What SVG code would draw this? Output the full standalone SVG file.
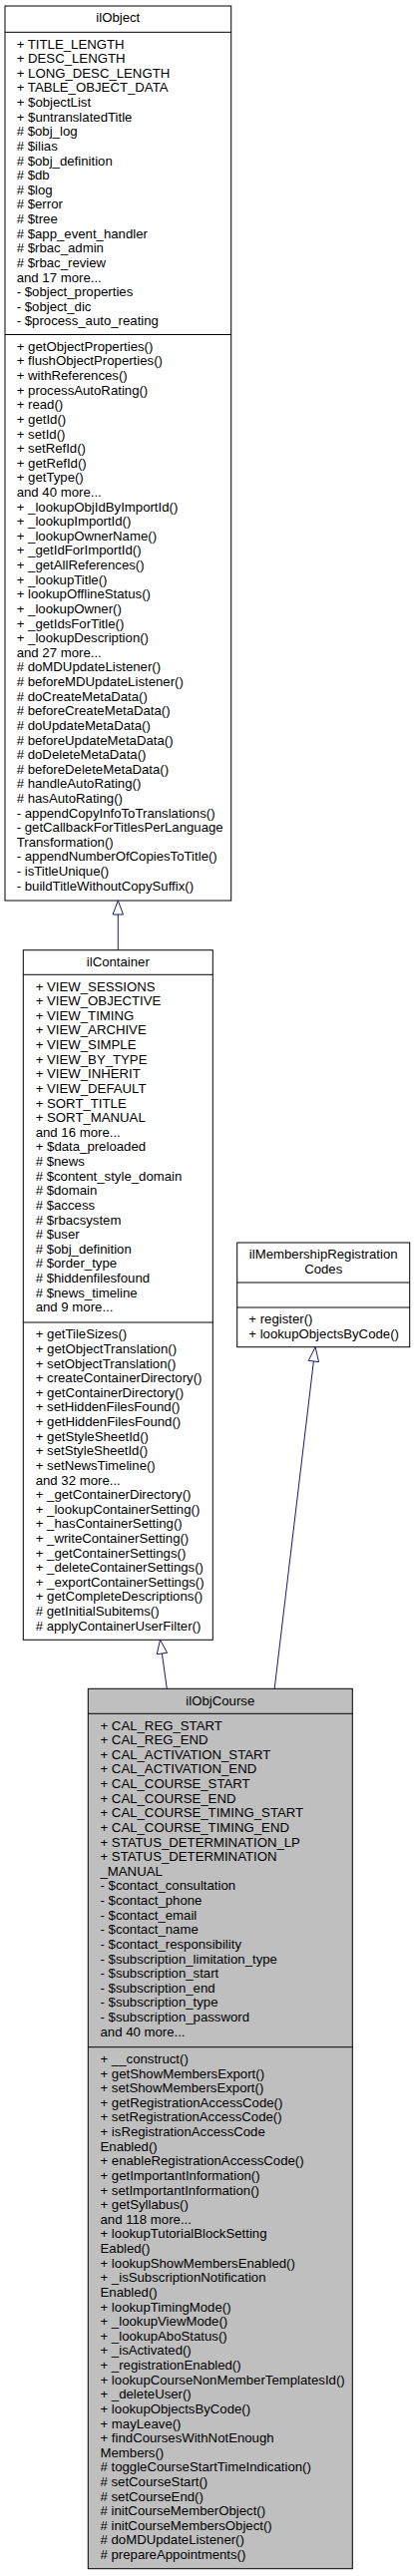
<svg xmlns="http://www.w3.org/2000/svg" width="415" height="2583" viewBox="0 0 415 2583">
<style>
.box{fill:#ffffff;stroke:#000000;stroke-width:1}
.cur{fill:#bfbfbf;stroke:#000000;stroke-width:1}
.sep{stroke:#000000;stroke-width:1}
text{font-family:"Liberation Sans",Arial,Helvetica,sans-serif;font-size:13.2px;fill:#000000}
.t{text-anchor:middle}
.edge{stroke:#191970;stroke-width:1;fill:none}
.head{fill:#ffffff;stroke:#191970;stroke-width:1}
</style>
<rect x="0" y="0" width="415" height="2583" fill="#ffffff"/>
<g id="ilObject">
<rect class="box" x="5" y="6" width="226.7" height="897"/>
<line class="sep" x1="5" y1="32.3" x2="231.7" y2="32.3"/>
<line class="sep" x1="5" y1="335.5" x2="231.7" y2="335.5"/>
<text class="t" x="118.3" y="22">ilObject</text>
<text><tspan x="16.7" y="48.6">+ TITLE_LENGTH</tspan><tspan x="16.7" dy="14.62">+ DESC_LENGTH</tspan><tspan x="16.7" dy="14.62">+ LONG_DESC_LENGTH</tspan><tspan x="16.7" dy="14.62">+ TABLE_OBJECT_DATA</tspan><tspan x="16.7" dy="14.62">+ $objectList</tspan><tspan x="16.7" dy="14.62">+ $untranslatedTitle</tspan><tspan x="16.7" dy="14.62"># $obj_log</tspan><tspan x="16.7" dy="14.62"># $ilias</tspan><tspan x="16.7" dy="14.62"># $obj_definition</tspan><tspan x="16.7" dy="14.62"># $db</tspan><tspan x="16.7" dy="14.62"># $log</tspan><tspan x="16.7" dy="14.62"># $error</tspan><tspan x="16.7" dy="14.62"># $tree</tspan><tspan x="16.7" dy="14.62"># $app_event_handler</tspan><tspan x="16.7" dy="14.62"># $rbac_admin</tspan><tspan x="16.7" dy="14.62"># $rbac_review</tspan><tspan x="16.7" dy="14.62">and 17 more...</tspan><tspan x="16.7" dy="14.62">- $object_properties</tspan><tspan x="16.7" dy="14.62">- $object_dic</tspan><tspan x="16.7" dy="14.62">- $process_auto_reating</tspan></text>
<text><tspan x="16.7" y="351.8">+ getObjectProperties()</tspan><tspan x="16.7" dy="14.62">+ flushObjectProperties()</tspan><tspan x="16.7" dy="14.62">+ withReferences()</tspan><tspan x="16.7" dy="14.62">+ processAutoRating()</tspan><tspan x="16.7" dy="14.62">+ read()</tspan><tspan x="16.7" dy="14.62">+ getId()</tspan><tspan x="16.7" dy="14.62">+ setId()</tspan><tspan x="16.7" dy="14.62">+ setRefId()</tspan><tspan x="16.7" dy="14.62">+ getRefId()</tspan><tspan x="16.7" dy="14.62">+ getType()</tspan><tspan x="16.7" dy="14.62">and 40 more...</tspan><tspan x="16.7" dy="14.62">+ _lookupObjIdByImportId()</tspan><tspan x="16.7" dy="14.62">+ _lookupImportId()</tspan><tspan x="16.7" dy="14.62">+ _lookupOwnerName()</tspan><tspan x="16.7" dy="14.62">+ _getIdForImportId()</tspan><tspan x="16.7" dy="14.62">+ _getAllReferences()</tspan><tspan x="16.7" dy="14.62">+ _lookupTitle()</tspan><tspan x="16.7" dy="14.62">+ lookupOfflineStatus()</tspan><tspan x="16.7" dy="14.62">+ _lookupOwner()</tspan><tspan x="16.7" dy="14.62">+ _getIdsForTitle()</tspan><tspan x="16.7" dy="14.62">+ _lookupDescription()</tspan><tspan x="16.7" dy="14.62">and 27 more...</tspan><tspan x="16.7" dy="14.62"># doMDUpdateListener()</tspan><tspan x="16.7" dy="14.62"># beforeMDUpdateListener()</tspan><tspan x="16.7" dy="14.62"># doCreateMetaData()</tspan><tspan x="16.7" dy="14.62"># beforeCreateMetaData()</tspan><tspan x="16.7" dy="14.62"># doUpdateMetaData()</tspan><tspan x="16.7" dy="14.62"># beforeUpdateMetaData()</tspan><tspan x="16.7" dy="14.62"># doDeleteMetaData()</tspan><tspan x="16.7" dy="14.62"># beforeDeleteMetaData()</tspan><tspan x="16.7" dy="14.62"># handleAutoRating()</tspan><tspan x="16.7" dy="14.62"># hasAutoRating()</tspan><tspan x="16.7" dy="14.62">- appendCopyInfoToTranslations()</tspan><tspan x="16.7" dy="14.62">- getCallbackForTitlesPerLanguage</tspan><tspan x="16.7" dy="14.62">Transformation()</tspan><tspan x="16.7" dy="14.62">- appendNumberOfCopiesToTitle()</tspan><tspan x="16.7" dy="14.62">- isTitleUnique()</tspan><tspan x="16.7" dy="14.62">- buildTitleWithoutCopySuffix()</tspan></text>
</g>
<g id="ilContainer">
<rect class="box" x="23.3" y="952.7" width="190" height="691.6"/>
<line class="sep" x1="23.3" y1="977.3" x2="213.3" y2="977.3"/>
<line class="sep" x1="23.3" y1="1326" x2="213.3" y2="1326"/>
<text class="t" x="118.3" y="968.7">ilContainer</text>
<text><tspan x="35.7" y="993.6">+ VIEW_SESSIONS</tspan><tspan x="35.7" dy="14.62">+ VIEW_OBJECTIVE</tspan><tspan x="35.7" dy="14.62">+ VIEW_TIMING</tspan><tspan x="35.7" dy="14.62">+ VIEW_ARCHIVE</tspan><tspan x="35.7" dy="14.62">+ VIEW_SIMPLE</tspan><tspan x="35.7" dy="14.62">+ VIEW_BY_TYPE</tspan><tspan x="35.7" dy="14.62">+ VIEW_INHERIT</tspan><tspan x="35.7" dy="14.62">+ VIEW_DEFAULT</tspan><tspan x="35.7" dy="14.62">+ SORT_TITLE</tspan><tspan x="35.7" dy="14.62">+ SORT_MANUAL</tspan><tspan x="35.7" dy="14.62">and 16 more...</tspan><tspan x="35.7" dy="14.62">+ $data_preloaded</tspan><tspan x="35.7" dy="14.62"># $news</tspan><tspan x="35.7" dy="14.62"># $content_style_domain</tspan><tspan x="35.7" dy="14.62"># $domain</tspan><tspan x="35.7" dy="14.62"># $access</tspan><tspan x="35.7" dy="14.62"># $rbacsystem</tspan><tspan x="35.7" dy="14.62"># $user</tspan><tspan x="35.7" dy="14.62"># $obj_definition</tspan><tspan x="35.7" dy="14.62"># $order_type</tspan><tspan x="35.7" dy="14.62"># $hiddenfilesfound</tspan><tspan x="35.7" dy="14.62"># $news_timeline</tspan><tspan x="35.7" dy="14.62">and 9 more...</tspan></text>
<text><tspan x="35.7" y="1342.3">+ getTileSizes()</tspan><tspan x="35.7" dy="14.62">+ getObjectTranslation()</tspan><tspan x="35.7" dy="14.62">+ setObjectTranslation()</tspan><tspan x="35.7" dy="14.62">+ createContainerDirectory()</tspan><tspan x="35.7" dy="14.62">+ getContainerDirectory()</tspan><tspan x="35.7" dy="14.62">+ setHiddenFilesFound()</tspan><tspan x="35.7" dy="14.62">+ getHiddenFilesFound()</tspan><tspan x="35.7" dy="14.62">+ getStyleSheetId()</tspan><tspan x="35.7" dy="14.62">+ setStyleSheetId()</tspan><tspan x="35.7" dy="14.62">+ setNewsTimeline()</tspan><tspan x="35.7" dy="14.62">and 32 more...</tspan><tspan x="35.7" dy="14.62">+ _getContainerDirectory()</tspan><tspan x="35.7" dy="14.62">+ _lookupContainerSetting()</tspan><tspan x="35.7" dy="14.62">+ _hasContainerSetting()</tspan><tspan x="35.7" dy="14.62">+ _writeContainerSetting()</tspan><tspan x="35.7" dy="14.62">+ _getContainerSettings()</tspan><tspan x="35.7" dy="14.62">+ _deleteContainerSettings()</tspan><tspan x="35.7" dy="14.62">+ _exportContainerSettings()</tspan><tspan x="35.7" dy="14.62">+ getCompleteDescriptions()</tspan><tspan x="35.7" dy="14.62"># getInitialSubitems()</tspan><tspan x="35.7" dy="14.62"># applyContainerUserFilter()</tspan></text>
</g>
<g id="ilMembershipRegistrationCodes">
<rect class="box" x="237.7" y="1246" width="173" height="104.7"/>
<line class="sep" x1="237.7" y1="1286" x2="410.7" y2="1286"/>
<line class="sep" x1="237.7" y1="1311" x2="410.7" y2="1311"/>
<text class="t"><tspan x="324.2" y="1262.4">ilMembershipRegistration</tspan><tspan x="324.2" dy="14.62">Codes</tspan></text>
<text><tspan x="249.3" y="1327.3">+ register()</tspan><tspan x="249.3" dy="14.62">+ lookupObjectsByCode()</tspan></text>
</g>
<g id="ilObjCourse">
<rect class="cur" x="88.3" y="1693.3" width="265" height="882.4"/>
<line class="sep" x1="88.3" y1="1718.3" x2="353.3" y2="1718.3"/>
<line class="sep" x1="88.3" y1="2052.7" x2="353.3" y2="2052.7"/>
<text class="t" x="220.8" y="1710.4">ilObjCourse</text>
<text><tspan x="100.5" y="1734.6">+ CAL_REG_START</tspan><tspan x="100.5" dy="14.62">+ CAL_REG_END</tspan><tspan x="100.5" dy="14.62">+ CAL_ACTIVATION_START</tspan><tspan x="100.5" dy="14.62">+ CAL_ACTIVATION_END</tspan><tspan x="100.5" dy="14.62">+ CAL_COURSE_START</tspan><tspan x="100.5" dy="14.62">+ CAL_COURSE_END</tspan><tspan x="100.5" dy="14.62">+ CAL_COURSE_TIMING_START</tspan><tspan x="100.5" dy="14.62">+ CAL_COURSE_TIMING_END</tspan><tspan x="100.5" dy="14.62">+ STATUS_DETERMINATION_LP</tspan><tspan x="100.5" dy="14.62">+ STATUS_DETERMINATION</tspan><tspan x="100.5" dy="14.62">_MANUAL</tspan><tspan x="100.5" dy="14.62">- $contact_consultation</tspan><tspan x="100.5" dy="14.62">- $contact_phone</tspan><tspan x="100.5" dy="14.62">- $contact_email</tspan><tspan x="100.5" dy="14.62">- $contact_name</tspan><tspan x="100.5" dy="14.62">- $contact_responsibility</tspan><tspan x="100.5" dy="14.62">- $subscription_limitation_type</tspan><tspan x="100.5" dy="14.62">- $subscription_start</tspan><tspan x="100.5" dy="14.62">- $subscription_end</tspan><tspan x="100.5" dy="14.62">- $subscription_type</tspan><tspan x="100.5" dy="14.62">- $subscription_password</tspan><tspan x="100.5" dy="14.62">and 40 more...</tspan></text>
<text><tspan x="100.5" y="2069">+ __construct()</tspan><tspan x="100.5" dy="14.62">+ getShowMembersExport()</tspan><tspan x="100.5" dy="14.62">+ setShowMembersExport()</tspan><tspan x="100.5" dy="14.62">+ getRegistrationAccessCode()</tspan><tspan x="100.5" dy="14.62">+ setRegistrationAccessCode()</tspan><tspan x="100.5" dy="14.62">+ isRegistrationAccessCode</tspan><tspan x="100.5" dy="14.62">Enabled()</tspan><tspan x="100.5" dy="14.62">+ enableRegistrationAccessCode()</tspan><tspan x="100.5" dy="14.62">+ getImportantInformation()</tspan><tspan x="100.5" dy="14.62">+ setImportantInformation()</tspan><tspan x="100.5" dy="14.62">+ getSyllabus()</tspan><tspan x="100.5" dy="14.62">and 118 more...</tspan><tspan x="100.5" dy="14.62">+ lookupTutorialBlockSetting</tspan><tspan x="100.5" dy="14.62">Eabled()</tspan><tspan x="100.5" dy="14.62">+ lookupShowMembersEnabled()</tspan><tspan x="100.5" dy="14.62">+ _isSubscriptionNotification</tspan><tspan x="100.5" dy="14.62">Enabled()</tspan><tspan x="100.5" dy="14.62">+ lookupTimingMode()</tspan><tspan x="100.5" dy="14.62">+ _lookupViewMode()</tspan><tspan x="100.5" dy="14.62">+ _lookupAboStatus()</tspan><tspan x="100.5" dy="14.62">+ _isActivated()</tspan><tspan x="100.5" dy="14.62">+ _registrationEnabled()</tspan><tspan x="100.5" dy="14.62">+ lookupCourseNonMemberTemplatesId()</tspan><tspan x="100.5" dy="14.62">+ _deleteUser()</tspan><tspan x="100.5" dy="14.62">+ lookupObjectsByCode()</tspan><tspan x="100.5" dy="14.62">+ mayLeave()</tspan><tspan x="100.5" dy="14.62">+ findCoursesWithNotEnough</tspan><tspan x="100.5" dy="14.62">Members()</tspan><tspan x="100.5" dy="14.62"># toggleCourseStartTimeIndication()</tspan><tspan x="100.5" dy="14.62"># setCourseStart()</tspan><tspan x="100.5" dy="14.62"># setCourseEnd()</tspan><tspan x="100.5" dy="14.62"># initCourseMemberObject()</tspan><tspan x="100.5" dy="14.62"># initCourseMembersObject()</tspan><tspan x="100.5" dy="14.62"># doMDUpdateListener()</tspan><tspan x="100.5" dy="14.62"># prepareAppointments()</tspan></text>
</g>
<g id="connectors">
<path class="edge" d="M118.3,952.7 L118.3,917"/>
<polygon class="head" points="118.3,903 113.1,917 123.5,917"/>
<path class="edge" d="M167.3,1693.3 L162.4,1658"/>
<polygon class="head" points="160.5,1644.3 157.25,1658.7 167.55,1657.3"/>
<path class="edge" d="M275.2,1693.3 L314.4,1365"/>
<polygon class="head" points="316.1,1350.7 309.25,1364.4 319.55,1365.6"/>
</g>
</svg>
